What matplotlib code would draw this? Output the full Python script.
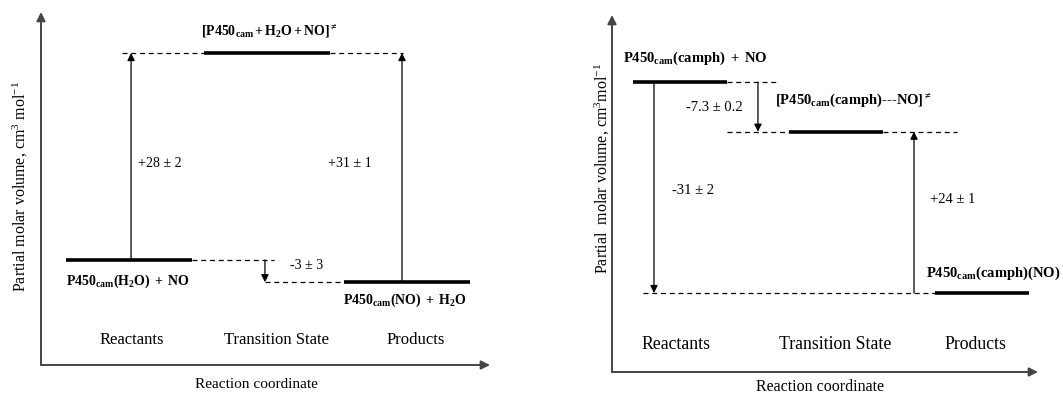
import matplotlib
matplotlib.use("Agg")
import matplotlib.pyplot as plt

plt.rcParams["font.family"] = ["Liberation Serif", "DejaVu Serif"]
plt.rcParams["mathtext.fontset"] = "custom"
plt.rcParams["mathtext.rm"] = "Liberation Serif"
plt.rcParams["mathtext.it"] = "Liberation Serif:italic"
plt.rcParams["mathtext.bf"] = "Liberation Serif:bold"

# ---- data -------------------------------------------------------------
stages = ["Reactants", "Transition State", "Products"]

# left: P450cam(H2O) + NO  ->  P450cam(NO) + H2O
left_volumes = [0.0, 28.0, -3.0]            # reactants, TS, products (cm3/mol)
left_species = [r"$\mathbf{P450_{cam}(H_2O)\ +\ NO}$",
                r"$\mathbf{[P450_{cam}+H_2O+NO]^{\neq}}$",
                r"$\mathbf{P450_{cam}(NO)\ +\ H_2O}$"]
left_deltas = ["+28 \u00b1 2", "+31 \u00b1 1", "-3 \u00b1 3"]

# right: P450cam(camph) + NO  ->  P450cam(camph)(NO)
right_volumes = [0.0, -7.3, -31.0]
right_species = [r"$\mathbf{P450_{cam}(camph)\ +\ NO}$",
                 r"$\mathbf{[P450_{cam}(camph)}$" + "---" + r"$\mathbf{NO]^{\neq}}$",
                 r"$\mathbf{P450_{cam}(camph)(NO)}$"]
right_deltas = ["-7.3 \u00b1 0.2", "-31 \u00b1 2", "+24 \u00b1 1"]

ylabel_left = r"Partial molar volume, cm$^3$ mol$^{-1}$"
ylabel_right = r"Partial  molar volume, cm$^3$mol$^{-1}$"
xlabel = "Reaction coordinate"

W, H = 1063, 394
fig = plt.figure(figsize=(W / 100, H / 100), dpi=100)

AX_COLOR = "#444444"
LEVEL_LW = 2.6
THIN_LW = 0.9


def px_axes(x0, y0, x1, y1):
    """Axes whose corners are given in figure pixels (top-left origin)."""
    return fig.add_axes([x0 / W, 1 - y1 / H, (x1 - x0) / W, (y1 - y0) / H])


def frame(ax):
    ax.set_axis_off()
    arrow = dict(arrowstyle="-|>", color=AX_COLOR, lw=1.4,
                 mutation_scale=13, shrinkA=0, shrinkB=0)
    ax.annotate("", xy=(0, 1), xytext=(0, 0), xycoords="axes fraction",
                textcoords="axes fraction", arrowprops=arrow)
    ax.annotate("", xy=(1, 0), xytext=(0, 0), xycoords="axes fraction",
                textcoords="axes fraction", arrowprops=arrow)


def vec(ax, x, y0, y1):
    ax.annotate("", xy=(x, y1), xytext=(x, y0),
                arrowprops=dict(arrowstyle="-|>", color="black", lw=THIN_LW,
                                mutation_scale=11, shrinkA=0, shrinkB=0))


def dashed(ax, y, x0, x1):
    ax.hlines(y, x0, x1, colors="black", lw=THIN_LW, linestyles=(0, (4, 3)))


# ---- left panel -------------------------------------------------------
axL = px_axes(41, 12, 490, 365)
frame(axL)
axL.set_xlim(-0.633, 2.597)
axL.set_ylim(-14.2, 33.55)

posL = [0.0, 0.993, 2.0]
hwL = 0.453
r, ts, p = left_volumes
for x, v in zip(posL, left_volumes):
    axL.hlines(v, x - hwL, x + hwL, colors="black", lw=LEVEL_LW)
dashed(axL, ts, -0.05, posL[1] - hwL)
dashed(axL, ts, posL[1] + hwL, 1.97)
dashed(axL, r, posL[0] + hwL, 1.04)
dashed(axL, p, 0.978, posL[2] - hwL)
vec(axL, 0.015, r, ts)
vec(axL, 1.964, p, ts)
vec(axL, 0.978, r, p)

axL.text(1.01, 30.9, left_species[1], ha="center", va="center", fontsize=10)
axL.text(-0.453, -2.84, left_species[0], ha="left", va="center", fontsize=10)
axL.text(1.54, -5.41, left_species[2], ha="left", va="center", fontsize=10)
axL.text(0.065, 13.0, left_deltas[0], ha="left", va="center", fontsize=10)
axL.text(1.43, 13.0, left_deltas[1], ha="left", va="center", fontsize=10)
axL.text(1.16, -0.68, left_deltas[2], ha="left", va="center", fontsize=10)
for x, s in zip([0.02, 1.06, 2.06], stages):
    axL.text(x, -10.8, s, ha="center", va="center", fontsize=12)

fig.text(256 / W, 1 - 384 / H, xlabel, ha="center", va="center", fontsize=11)
fig.text(20 / W, 1 - 186 / H, ylabel_left, ha="center", va="center",
         rotation=90, fontsize=11.5)

# ---- right panel ------------------------------------------------------
axR = px_axes(612, 15, 1038, 372)
frame(axR)
axR.set_xlim(-0.452, 2.379)
axR.set_ylim(-42.6, 9.84)

posR = [0.0, 1.037, 2.007]
hwR = 0.313
r, ts, p = right_volumes
for x, v in zip(posR, right_volumes):
    axR.hlines(v, x - hwR, x + hwR, colors="black", lw=LEVEL_LW)
dashed(axR, r, posR[0] + hwR, 0.653)
dashed(axR, ts, posR[0] + hwR, posR[1] - hwR)
dashed(axR, ts, posR[1] + hwR, 1.84)
dashed(axR, p, -0.247, posR[2] - hwR)
vec(axR, -0.173, r, p)
vec(axR, 0.518, r, ts)
vec(axR, 1.555, p, ts)

axR.text(-0.379, 3.53, right_species[0], ha="left", va="center", fontsize=10.5)
axR.text(0.631, -2.64, right_species[1], ha="left", va="center",
         fontsize=10.5, fontweight="bold")
axR.text(1.635, -28.1, right_species[2], ha="left", va="center", fontsize=10.5)
axR.text(0.04, -3.82, right_deltas[0], ha="left", va="center", fontsize=10.5)
axR.text(-0.053, -15.9, right_deltas[1], ha="left", va="center", fontsize=10.5)
axR.text(1.661, -17.3, right_deltas[2], ha="left", va="center", fontsize=10.5)
for x, s in zip([-0.027, 1.03, 1.96], stages):
    axR.text(x, -38.6, s, ha="center", va="center", fontsize=12.8)

fig.text(820 / W, 1 - 387 / H, xlabel, ha="center", va="center", fontsize=11.5)
fig.text(602 / W, 1 - 168 / H, ylabel_right, ha="center", va="center",
         rotation=90, fontsize=11.5)

fig.savefig("out.png", dpi=100, facecolor="white")
